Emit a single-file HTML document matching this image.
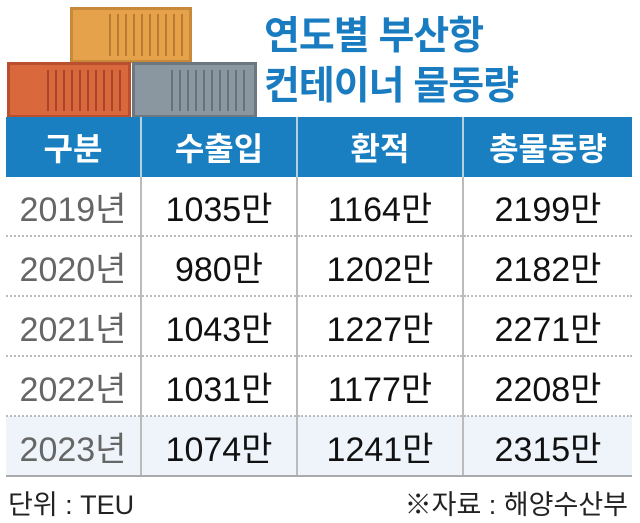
<!DOCTYPE html>
<html><head><meta charset="utf-8"><style>
body{margin:0;width:640px;height:523px;background:#fff;position:relative;overflow:hidden;font-family:"Liberation Sans Narrow","Liberation Sans","Noto Sans CJK KR",sans-serif}
.c{position:absolute;box-sizing:border-box;border:3px solid}
.t{position:absolute;left:264px;color:#1a7cc0;font-family:"Liberation Sans","Noto Sans CJK KR",sans-serif;font-weight:bold;font-size:39px;letter-spacing:-1px;line-height:42px}
table{position:absolute;left:6px;top:117px;width:626px;border-collapse:collapse;table-layout:fixed}
th{background:#1a7fc1;color:#fff;height:60px;font-family:"Liberation Sans","Noto Sans CJK KR",sans-serif;font-weight:bold;font-size:32px;border-left:2px solid #b8cfe0;padding:0}
td{height:58px;text-align:center;font-size:34px;color:#111;border-left:2px solid #bbb;border-top:2px dotted #bbb;padding:0;font-family:"Liberation Sans Narrow","Liberation Sans","Noto Sans CJK KR",sans-serif}
th:first-child,td:first-child{border-left:none}
td:first-child{color:#666}
tr.l td{background:#eef4fa;border-bottom:2px solid #aaa}
tr:nth-child(2) td{border-top:none}
.f{position:absolute;top:483px;font-size:27px;color:#222;font-family:"Liberation Sans Narrow","Liberation Sans","Noto Sans CJK KR",sans-serif}
</style></head><body>
<div class="c" style="left:70px;top:7px;width:122px;height:56px;background:#e5a24a;border-color:#c88a3a"></div>
<div class="c" style="left:7px;top:62px;width:124px;height:56px;background:#d9683c;border-color:#b94f2e"></div>
<div class="c" style="left:132px;top:62px;width:125px;height:56px;background:#8a96a0;border-color:#6c7780"></div>
<svg style="position:absolute;left:0;top:0" width="260" height="120">
<g stroke="#b97c32" stroke-width="2">
<line x1="110" y1="14" x2="110" y2="56"/><line x1="118" y1="14" x2="118" y2="56"/><line x1="126" y1="14" x2="126" y2="56"/><line x1="134" y1="14" x2="134" y2="56"/><line x1="142" y1="14" x2="142" y2="56"/><line x1="150" y1="14" x2="150" y2="56"/><line x1="158" y1="14" x2="158" y2="56"/><line x1="166" y1="14" x2="166" y2="56"/><line x1="174" y1="14" x2="174" y2="56"/><line x1="182" y1="14" x2="182" y2="56"/></g>
<g stroke="#a8452a" stroke-width="2">
<line x1="48" y1="70" x2="48" y2="111"/><line x1="56" y1="70" x2="56" y2="111"/><line x1="64" y1="70" x2="64" y2="111"/><line x1="72" y1="70" x2="72" y2="111"/><line x1="80" y1="70" x2="80" y2="111"/><line x1="88" y1="70" x2="88" y2="111"/><line x1="96" y1="70" x2="96" y2="111"/><line x1="104" y1="70" x2="104" y2="111"/><line x1="112" y1="70" x2="112" y2="111"/><line x1="120" y1="70" x2="120" y2="111"/></g>
<g stroke="#68727b" stroke-width="2">
<line x1="172" y1="70" x2="172" y2="111"/><line x1="180" y1="70" x2="180" y2="111"/><line x1="188" y1="70" x2="188" y2="111"/><line x1="196" y1="70" x2="196" y2="111"/><line x1="204" y1="70" x2="204" y2="111"/><line x1="212" y1="70" x2="212" y2="111"/><line x1="220" y1="70" x2="220" y2="111"/><line x1="228" y1="70" x2="228" y2="111"/><line x1="236" y1="70" x2="236" y2="111"/><line x1="244" y1="70" x2="244" y2="111"/></g>
</svg>
<div class="t" style="top:16px">연도별 부산항</div>
<div class="t" style="top:66px">컨테이너 물동량</div>
<table>
<colgroup><col style="width:135px"><col style="width:156px"><col style="width:166px"><col></colgroup>
<tr><th>구분</th><th>수출입</th><th>환적</th><th>총물동량</th></tr>
<tr><td>2019년</td><td>1035만</td><td>1164만</td><td>2199만</td></tr>
<tr><td>2020년</td><td>980만</td><td>1202만</td><td>2182만</td></tr>
<tr><td>2021년</td><td>1043만</td><td>1227만</td><td>2271만</td></tr>
<tr><td>2022년</td><td>1031만</td><td>1177만</td><td>2208만</td></tr>
<tr class="l"><td>2023년</td><td>1074만</td><td>1241만</td><td>2315만</td></tr>
</table>
<div class="f" style="left:8px">단위 : TEU</div>
<div class="f" style="right:12px">※자료 : 해양수산부</div>
</body></html>
